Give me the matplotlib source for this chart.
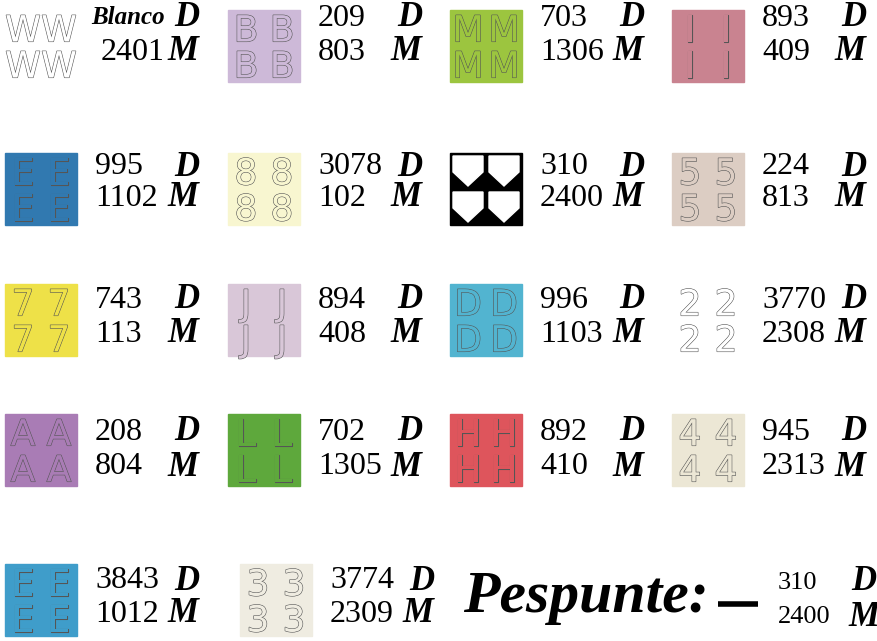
import matplotlib.pyplot as plt
import matplotlib.patheffects as pe

# Farbtabelle: DMC- und Madeira-Nummern
dmc = ['Blanco', '209', '703', '893',
       '995', '3078', '310', '224',
       '743', '894', '996', '3770',
       '208', '702', '892', '945',
       '3843', '3774']
madeira = ['2401', '803', '1306', '409',
           '1102', '102', '2400', '813',
           '113', '408', '1103', '2308',
           '804', '1305', '410', '2313',
           '1012', '2309']
swatch = ['#ffffff', '#cdb9d8', '#9cc53f', '#c98390',
          '#3179b0', '#f8f6d0', '#000000', '#dccdc3',
          '#eee148', '#d9c7d8', '#52b4d0', '#ffffff',
          '#a97cb5', '#5ea83c', '#de555c', '#ece7d5',
          '#3f9dca', '#efece1']
symbols = ['W', 'B', 'M', 'I',
           'E', '8', 'shield', '5',
           '7', 'J', 'D', '2',
           'A', 'L', 'H', '4',
           'E', '3']
stitch_dmc = '310'
stitch_madeira = '2400'

# Layout (Pixel)
col_x = [5, 228, 450, 672]
row_y = [10, 153, 284, 414, 564]
txt_y1 = [18, 167, 300, 432, 581]
txt_y2 = [52, 198, 334, 467, 614]
box = 72

fig = plt.figure(figsize=(8.78, 6.41), dpi=100)
ax = fig.add_axes([0, 0, 1, 1])
ax.set_xlim(0, 878)
ax.set_ylim(641, 0)
ax.axis('off')

serif = 'Liberation Serif'

for i, (d, m, c, s) in enumerate(zip(dmc, madeira, swatch, symbols)):
    r, k = divmod(i, 4)
    x0 = col_x[k] + (12 if (r == 4 and k == 1) else 0)
    y0 = row_y[r]
    if c != '#ffffff':
        ax.add_patch(plt.Rectangle((x0, y0), box, box, color=c, zorder=1))
    # Symbole 2x2
    for a in range(2):
        for b in range(2):
            cx = x0 + 18 + b * 36
            cy = y0 + 18 + a * 36
            if s == 'shield':
                w, h = 30, 30
                px = [cx - w/2, cx + w/2, cx + w/2, cx, cx - w/2]
                py = [cy - h/2, cy - h/2, cy + 1, cy + h/2, cy + 1]
                ax.fill(px, py, color='white', zorder=2)
            else:
                ax.text(cx, cy, s, ha='center', va='center_baseline', fontsize=26,
                        family='DejaVu Sans', color=c, zorder=2,
                        path_effects=[pe.Stroke(linewidth=0.8, foreground='#555555'),
                                      pe.Normal()])
    tx = x0 + 90
    if d == 'Blanco':
        ax.text(x0 + 86, txt_y1[r], d, ha='left', va='center', fontsize=18,
                family=serif, weight='bold', style='italic')
        ax.text(x0 + 96, txt_y2[r], m, ha='left', va='center', fontsize=23, family=serif)
    else:
        ax.text(tx, txt_y1[r], d, ha='left', va='center', fontsize=23, family=serif)
        ax.text(tx, txt_y2[r], m, ha='left', va='center', fontsize=23, family=serif)
    ax.text(x0 + 182, txt_y1[r], 'D', ha='center', va='center', fontsize=25,
            family=serif, weight='bold', style='italic')
    ax.text(x0 + 178, txt_y2[r], 'M', ha='center', va='center', fontsize=25,
            family=serif, weight='bold', style='italic')

# Pespunte
ax.text(463, 598, 'Pespunte:', ha='left', va='center', fontsize=43,
        family=serif, weight='bold', style='italic')
ax.plot([718, 758], [604, 604], color='black', lw=4, solid_capstyle='butt')
ax.text(778, 583, stitch_dmc, ha='left', va='center', fontsize=19, family=serif)
ax.text(778, 617, stitch_madeira, ha='left', va='center', fontsize=19, family=serif)
ax.text(864, 581, 'D', ha='center', va='center', fontsize=25,
        family=serif, weight='bold', style='italic')
ax.text(864, 617, 'M', ha='center', va='center', fontsize=25,
        family=serif, weight='bold', style='italic')

plt.savefig('out.png', dpi=100)
